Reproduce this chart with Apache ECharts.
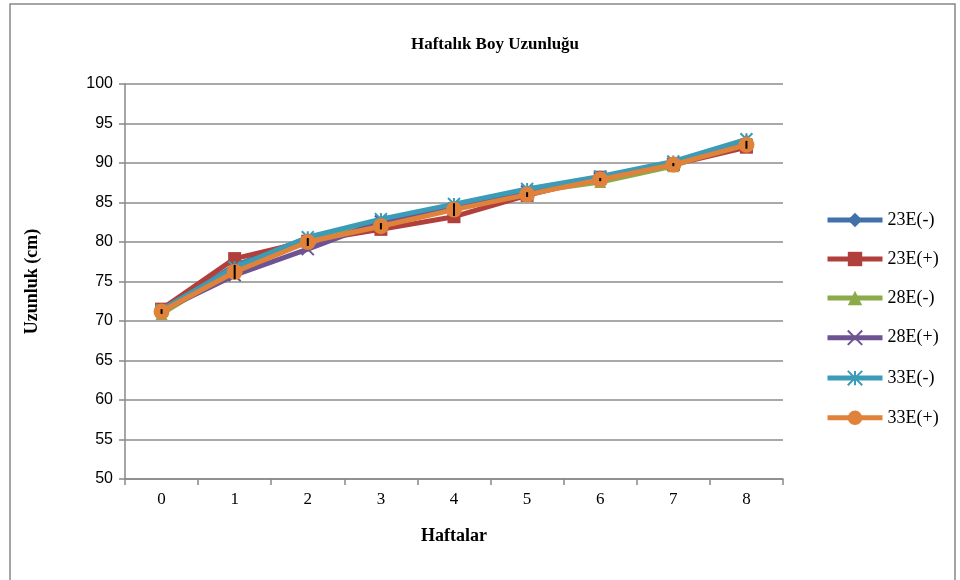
<!DOCTYPE html>
<html>
<head>
<meta charset="utf-8">
<script src="https://cdn.jsdelivr.net/npm/echarts@6/dist/echarts.min.js"></script>
<style>
  html, body { margin: 0; padding: 0; background: #fff; }
  #grafica { width: 960px; height: 580px; }
</style>
</head>
<body>
<div id="grafica"></div>
<script>
const haftalar = ['0', '1', '2', '3', '4', '5', '6', '7', '8'];
const seriler = ['23E(-)', '23E(+)', '28E(-)', '28E(+)', '33E(-)', '33E(+)'];

const e23eksi = [71.2, 77.0, 80.5, 82.3, 84.6, 86.5, 88.1, 90.0, 92.6];
const e23arti = [71.5, 77.9, 80.1, 81.6, 83.2, 85.9, 88.2, 89.8, 92.0];
const e28eksi = [70.9, 76.6, 80.4, 82.8, 84.4, 86.3, 87.6, 89.6, 93.0];
const e28arti = [71.3, 75.8, 79.1, 82.6, 84.2, 86.4, 88.0, 89.9, 92.3];
const e33eksi = [71.4, 76.8, 80.6, 82.9, 84.8, 86.7, 88.3, 90.2, 93.0];
const e33arti = [71.2, 76.2, 80.0, 82.0, 84.1, 86.0, 87.9, 89.8, 92.3];
const hata = [0.3, 0.9, 0.5, 0.4, 0.8, 0.3, 0.2, 0.2, 0.5];

const renkler = ['#4170AA', '#B13F3C', '#8BAA4A', '#6E5393', '#3C9BB6', '#E0823A'];
const isaretler = [
    'diamond',
    'rect',
    'triangle',
    'path://M0,0L2,2M2,0L0,2',
    'path://M0,0L2,2M2,0L0,2M1,0L1,2',
    'circle'
];
const boyutlar = [11, 13, 12, 12, 12, 16];
const veriler = [e23eksi, e23arti, e28eksi, e28arti, e33eksi, e33arti];

const serif = '"Liberation Serif", "DejaVu Serif", serif';

const cizgiSerileri = seriler.map((ad, i) => {
    const xIsareti = i === 3 || i === 4;
    return {
        name: ad,
        type: 'line',
        data: veriler[i],
        symbol: isaretler[i],
        symbolSize: boyutlar[i],
        showAllSymbol: true,
        lineStyle: { color: renkler[i], width: 5 },
        itemStyle: xIsareti
            ? { color: 'none', borderColor: renkler[i], borderWidth: 2 }
            : { color: renkler[i] },
        z: 2 + i
    };
});

const hataCubuklari = {
    type: 'custom',
    name: 'hata',
    z: 20,
    silent: true,
    data: e33arti.map((v, i) => [i, v, hata[i]]),
    renderItem: (params, api) => {
        const ust = api.coord([api.value(0), api.value(1) + api.value(2)]);
        const alt = api.coord([api.value(0), api.value(1) - api.value(2)]);
        return {
            type: 'line',
            shape: { x1: ust[0], y1: ust[1], x2: alt[0], y2: alt[1] },
            style: { stroke: '#000', lineWidth: 2 }
        };
    }
};

const initGrafica = () => {
    const myChart = echarts.init(document.getElementById('grafica'));
    myChart.setOption({
        animation: false,
        backgroundColor: '#fff',
        graphic: [{
            type: 'rect',
            shape: { x: 10, y: 4, width: 945, height: 590 },
            style: { fill: 'none', stroke: '#888', lineWidth: 1.5 }
        }],
        title: {
            text: 'Haftalık Boy Uzunluğu',
            left: 490,
            top: 31,
            textAlign: 'center',
            textStyle: { fontFamily: serif, fontSize: 17, fontWeight: 'bold', color: '#000' }
        },
        legend: {
            orient: 'vertical',
            left: 820,
            top: 206,
            itemGap: 21,
            itemWidth: 55,
            itemHeight: 18,
            data: seriler,
            lineStyle: { width: 5 },
            textStyle: { fontFamily: serif, fontSize: 18, color: '#000' }
        },
        grid: { left: 125, right: 177, top: 84, bottom: 101 },
        xAxis: {
            type: 'category',
            data: haftalar,
            boundaryGap: true,
            name: 'Haftalar',
            nameLocation: 'middle',
            nameGap: 48,
            nameTextStyle: { fontFamily: serif, fontSize: 18, fontWeight: 'bold', color: '#000' },
            axisLine: { lineStyle: { color: '#888', width: 1.5 } },
            axisTick: { show: true, length: 6, lineStyle: { color: '#888', width: 1.5 } },
            axisLabel: { fontFamily: serif, fontSize: 17, color: '#000', margin: 12 }
        },
        yAxis: {
            type: 'value',
            min: 50,
            max: 100,
            interval: 5,
            name: 'Uzunluk (cm)',
            nameLocation: 'middle',
            nameGap: 84,
            nameTextStyle: { fontFamily: serif, fontSize: 18, fontWeight: 'bold', color: '#000' },
            axisLine: { show: true, lineStyle: { color: '#888', width: 1.5 } },
            axisTick: { show: true, length: 6, lineStyle: { color: '#888', width: 1.5 } },
            axisLabel: { fontFamily: '"Liberation Sans", Arial, sans-serif', fontSize: 16, color: '#000', margin: 12 },
            splitLine: { lineStyle: { color: '#8c8c8c', width: 1.5 } }
        },
        series: [...cizgiSerileri, hataCubuklari]
    });
    myChart.resize();
};

window.addEventListener('load', () => {
    initGrafica();
});
</script>
</body>
</html>
